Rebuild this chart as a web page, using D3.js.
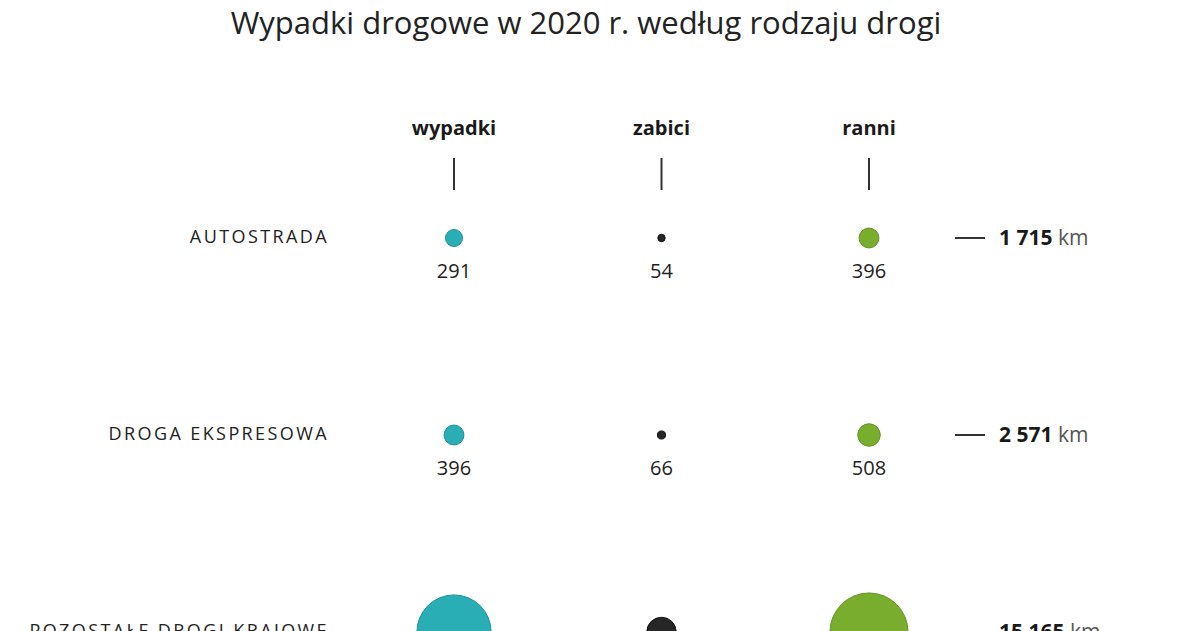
<!DOCTYPE html>
<html>
<head>
<meta charset="utf-8">
<script src="https://cdn.jsdelivr.net/npm/d3@7"></script>
<style>
  html, body { margin: 0; padding: 0; background: #fff; overflow: hidden; }
  svg { display: block; font-family: "Open Sans", "Noto Sans", sans-serif; }
</style>
</head>
<body>
<div id="chart"></div>
<script>
// Road types (rows), measures (columns)
var ROADS = ["AUTOSTRADA", "DROGA EKSPRESOWA", "POZOSTAŁE DROGI KRAJOWE"];
var MEASURES = ["wypadki", "zabici", "ranni"];
var WYPADKI = [291, 396, 5500];
var ZABICI = [54, 66, 870];
var RANNI = [396, 508, 6100];
var LENGTH_KM = [1715, 2571, 15165];

var COLORS = { wypadki: "#2aaeb5", zabici: "#262626", ranni: "#79ad2d" };
var STROKES = { wypadki: "#1d9199", zabici: "#111", ranni: "#659523" };

var W = 1198, H = 631;
var svg = d3.select("#chart").append("svg").attr("width", W).attr("height", H);

var fmt = d3.formatLocale({ decimal: ",", thousands: "\u00a0", grouping: [3], currency: ["", " zł"] }).format(",d");

var x = d3.scalePoint().domain(MEASURES).range([454, 869]);
var y = d3.scalePoint().domain(ROADS).range([238, 632]);
var r = d3.scaleSqrt().domain([0, 10000]).range([0, 50]);

var series = { wypadki: WYPADKI, zabici: ZABICI, ranni: RANNI };

svg.append("text")
  .attr("x", 586).attr("y", 34)
  .attr("text-anchor", "middle")
  .attr("font-size", 31).attr("fill", "#222")
  .text("Wypadki drogowe w 2020 r. według rodzaju drogi");

// column headers + ticks
var head = svg.append("g").selectAll("g").data(MEASURES).join("g")
  .attr("transform", function (d) { return "translate(" + x(d) + ",0)"; });
head.append("text").attr("y", 135).attr("text-anchor", "middle")
  .attr("font-size", 20).attr("font-weight", 700).attr("fill", "#1a1a1a")
  .text(function (d) { return d; });
head.append("line").attr("y1", 158).attr("y2", 190)
  .attr("stroke", "#333").attr("stroke-width", 2);

// rows
var rows = svg.append("g").selectAll("g").data(ROADS).join("g")
  .attr("transform", function (d) { return "translate(0," + y(d) + ")"; });

rows.append("text")
  .attr("x", 329).attr("dy", "0.28em").attr("text-anchor", "end")
  .attr("font-size", 18).attr("letter-spacing", "2.4px").attr("fill", "#222")
  .text(function (d) { return d; });

MEASURES.forEach(function (m) {
  rows.append("circle")
    .attr("cx", x(m))
    .attr("r", function (d, i) { return r(series[m][i]); })
    .attr("fill", COLORS[m])
    .attr("stroke", STROKES[m]).attr("stroke-width", 1);
  // value labels only where they fit on the page (the reference crops the last row)
  rows.filter(function (d) { return y(d) + 45 < H; }).append("text")
    .attr("x", x(m)).attr("y", 40)
    .attr("text-anchor", "middle").attr("font-size", 20).attr("fill", "#222")
    .text(function (d) { return fmt(series[m][ROADS.indexOf(d)]); });
});

// road length
rows.append("line").attr("x1", 955).attr("x2", 985)
  .attr("stroke", "#333").attr("stroke-width", 2);
var km = rows.append("text").attr("x", 999).attr("dy", "0.35em").attr("font-size", 21);
km.append("tspan").attr("font-weight", 700).attr("fill", "#1a1a1a")
  .text(function (d, i) { return fmt(LENGTH_KM[i]); });
km.append("tspan").attr("fill", "#555").text(" km");
</script>
</body>
</html>
